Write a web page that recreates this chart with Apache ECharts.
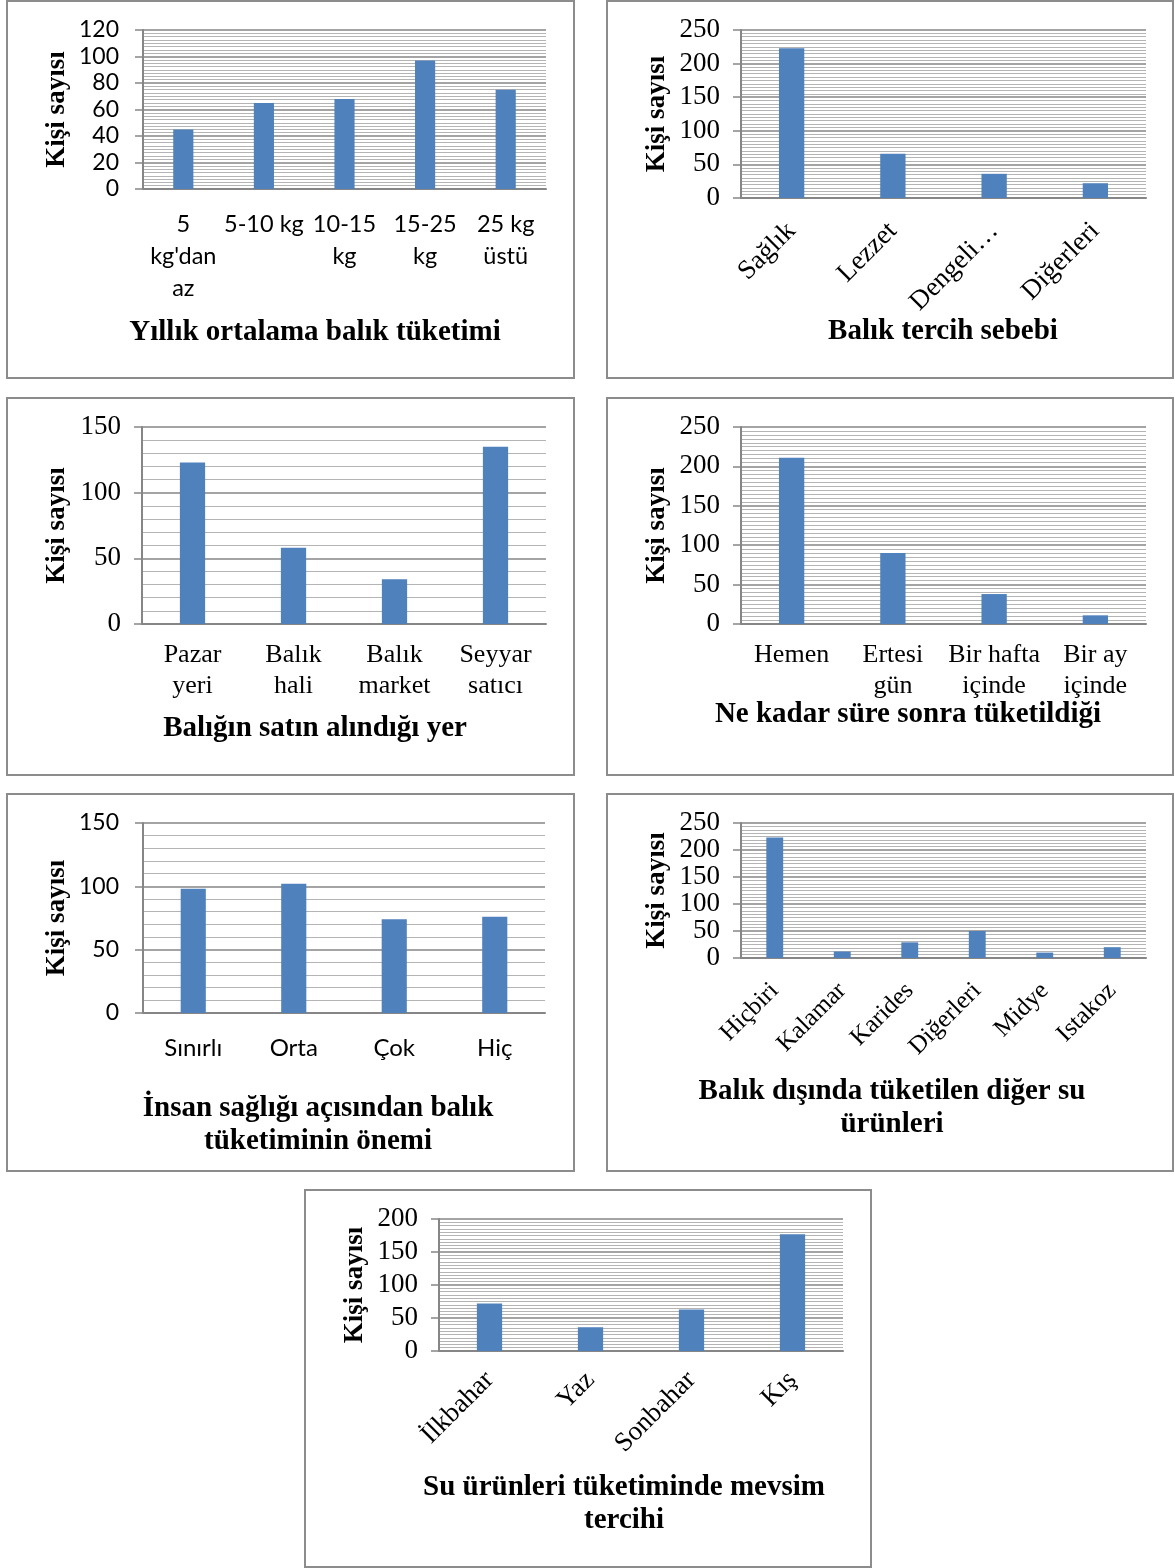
<!DOCTYPE html>
<html><head><meta charset="utf-8">
<script src="https://cdn.jsdelivr.net/npm/echarts@6/dist/echarts.min.js"></script>
<style>html,body{margin:0;padding:0;background:#fff}#c{width:1175px;height:1568px}</style>
</head><body><div id="c"></div>
<script>
// ---------- DATA ----------
const yName = 'Kişi sayısı';

const cat1 = ["5\nkg'dan\naz", "5-10 kg", "10-15\nkg", "15-25\nkg", "25 kg\nüstü"];
const val1 = [45, 65, 68, 97, 75];
const title1 = 'Yıllık ortalama balık tüketimi';
const axis1 = {max: 120, interval: 20};

const cat2 = ["Sağlık", "Lezzet", "Dengeli…", "Diğerleri"];
const val2 = [223, 66, 36, 22];
const title2 = 'Balık tercih sebebi';
const axis2 = {max: 250, interval: 50};

const cat3 = ["Pazar\nyeri", "Balık\nhali", "Balık\nmarket", "Seyyar\nsatıcı"];
const val3 = [123, 58, 34, 135];
const title3 = 'Balığın satın alındığı yer';
const axis3 = {max: 150, interval: 50};

const cat4 = ["Hemen", "Ertesi\ngün", "Bir hafta\niçinde", "Bir ay\niçinde"];
const val4 = [211, 90, 38, 11];
const title4 = 'Ne kadar süre sonra tüketildiği';
const axis4 = {max: 250, interval: 50};

const cat5 = ["Sınırlı", "Orta", "Çok", "Hiç"];
const val5 = [98, 102, 74, 76];
const title5 = 'İnsan sağlığı açısından balık\ntüketiminin önemi';
const axis5 = {max: 150, interval: 50};

const cat6 = ["Hiçbiri", "Kalamar", "Karides", "Diğerleri", "Midye", "Istakoz"];
const val6 = [223, 12, 29, 50, 10, 20];
const title6 = 'Balık dışında tüketilen diğer su\nürünleri';
const axis6 = {max: 250, interval: 50};

const cat7 = ["İlkbahar", "Yaz", "Sonbahar", "Kış"];
const val7 = [72, 36, 63, 177];
const title7 = 'Su ürünleri tüketiminde mevsim\ntercihi';
const axis7 = {max: 200, interval: 50};

// ---------- LAYOUT / STYLE ----------
const SERIF = '"Liberation Serif","Times New Roman",serif';
const SANS = 'Lato,"Open Sans",sans-serif';

const panels = [
  {data:[cat1,val1,title1,axis1], box:[7,1,567,377], grid:{left:143,top:30,width:403,height:159}, minor:8,
   tickFont:SANS, tickSize:23, tickMargin:24, catFont:SANS, catSize:23.5, catLH:32, catMargin:19, rotate:0,
   tx:315, ty:316, nameGap:72},
  {data:[cat2,val2,title2,axis2], box:[607,1,566,377], grid:{left:741,top:30,width:405,height:168}, minor:10,
   tickFont:SERIF, tickSize:27, tickMargin:21, catFont:SERIF, catSize:27, catLH:28, catMargin:29, rotate:45,
   tx:943, ty:315, nameGap:70},
  {data:[cat3,val3,title3,axis3], box:[7,398,567,377], grid:{left:142,top:427,width:404,height:197}, minor:5,
   tickFont:SERIF, tickSize:27, tickMargin:21, catFont:SERIF, catSize:26, catLH:31, catMargin:16, rotate:0,
   tx:315, ty:712, nameGap:71},
  {data:[cat4,val4,title4,axis4], box:[607,398,566,377], grid:{left:741,top:427,width:405,height:197}, minor:10,
   tickFont:SERIF, tickSize:27, tickMargin:21, catFont:SERIF, catSize:26, catLH:31, catMargin:16, rotate:0,
   tx:908, ty:698, nameGap:70},
  {data:[cat5,val5,title5,axis5], box:[7,794,567,377], grid:{left:143,top:823,width:402,height:190}, minor:5,
   tickFont:SANS, tickSize:23, tickMargin:24, catFont:SANS, catSize:24, catLH:30, catMargin:20, rotate:0,
   tx:318, ty:1092, nameGap:72},
  {data:[cat6,val6,title6,axis6], box:[607,794,566,377], grid:{left:741,top:823,width:405,height:135}, minor:8,
   tickFont:SERIF, tickSize:27, tickMargin:21, catFont:SERIF, catSize:25, catLH:26, catMargin:29, rotate:45,
   tx:892, ty:1075, nameGap:70},
  {data:[cat7,val7,title7,axis7], box:[305,1190,566,377], grid:{left:439,top:1219,width:404,height:132}, minor:10,
   tickFont:SERIF, tickSize:27, tickMargin:21, catFont:SERIF, catSize:27, catLH:28, catMargin:25, rotate:45,
   tx:624, ty:1471, nameGap:70}
];

const AXIS_GREY = '#868686';
const option = {animation:false, backgroundColor:'#fff', title:[], grid:[], xAxis:[], yAxis:[], series:[], graphic:[]};

panels.forEach((p, i) => {
  const [cats, vals, title, ax] = p.data;
  option.graphic.push({type:'rect', z:-1, shape:{x:p.box[0], y:p.box[1], width:p.box[2], height:p.box[3]},
    style:{fill:'none', stroke:'#8c8c8c', lineWidth:2}});
  option.title.push({text:title, left:p.tx, top:p.ty, textAlign:'center', padding:0,
    textStyle:{fontFamily:SERIF, fontWeight:'bold', fontSize:29, lineHeight:33, color:'#000'}});
  option.grid.push(Object.assign({containLabel:false}, p.grid));
  option.xAxis.push({type:'category', gridIndex:i, data:cats,
    axisLine:{show:true, lineStyle:{color:AXIS_GREY, width:2}},
    axisTick:{show:false},
    axisLabel:{interval:0, rotate:p.rotate, fontFamily:p.catFont, fontSize:p.catSize, lineHeight:p.catLH,
      color:'#000', margin:p.catMargin}});
  option.yAxis.push({type:'value', gridIndex:i, min:0, max:ax.max, interval:ax.interval,
    name:yName, nameLocation:'middle', nameRotate:90, nameGap:p.nameGap,
    nameTextStyle:{fontFamily:SERIF, fontWeight:'bold', fontSize:27, color:'#000'},
    axisLine:{show:true, lineStyle:{color:AXIS_GREY, width:2}},
    axisTick:{show:true, length:8, lineStyle:{color:AXIS_GREY, width:1.5}},
    axisLabel:{fontFamily:p.tickFont, fontSize:p.tickSize, color:'#000', margin:p.tickMargin},
    splitLine:{show:true, lineStyle:{color:AXIS_GREY, width:1.5}},
    minorTick:{show:false, splitNumber:p.minor},
    minorSplitLine:{show:true, lineStyle:{color:'#b4b4b4', width:1}}});
  option.series.push({type:'bar', xAxisIndex:i, yAxisIndex:i, data:vals, barWidth:'25%',
    itemStyle:{color:'#4F81BD'}});
});

const chart = echarts.init(document.getElementById('c'), null, {renderer:'canvas'});
chart.setOption(option);
</script>
</body></html>
